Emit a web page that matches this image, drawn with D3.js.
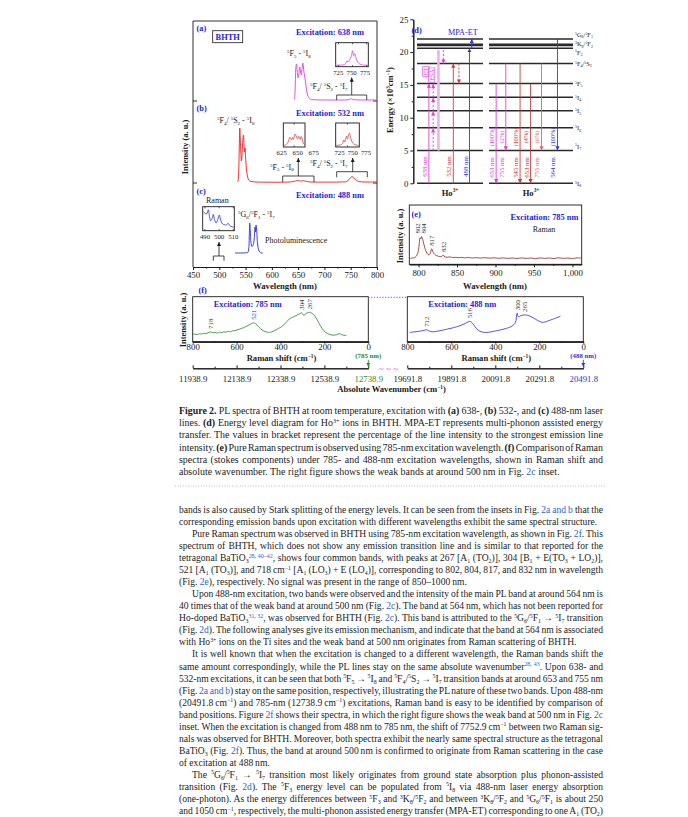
<!DOCTYPE html>
<html>
<head>
<meta charset="utf-8">
<script src="https://cdn.jsdelivr.net/npm/d3@7/dist/d3.min.js"></script>
<style>
  html, body { margin: 0; background: #fff; }
  svg { display: block; }
</style>
</head>
<body>
<svg id="page" width="688" height="817"></svg>
<script>
// ---------- data ----------
const wlTicks = [450, 500, 550, 600, 650, 700, 750, 800];
const ramanWlTicks = [800, 850, 900, 950, 1000];
const shiftTicks = [800, 600, 400, 200, 0];
const absTicks785 = [11938.9, 12138.9, 12338.9, 12538.9, 12738.9];
const absTicks488 = [19691.8, 19891.8, 20091.8, 20291.8, 20491.8];
const energyTicks = [0, 5, 10, 15, 20, 25];

// [wavelength nm, intensity a.u.]
const pl638 = [[643,1.5],[644,8],[645,26],[646,35],[647,37],[648,31],[649,26],[650,23],[651,25],[652,30],[653,34],[654,31],[655,28],[656,26],[657,30],[658,35],[659,38],[660,34],[661,29],[662,26],[663,23],[664,19],[665,15],[666,11],[667,8],[668,6],[670,3.5],[673,2],[678,1.3],[690,1.1],[720,1],[742,1.1],[747,1.5],[750,2.2],[753,1.9],[756,1.4],[762,1.1],[780,1],[800,1]];
const pl532 = [[535,1],[536,3],[537,12],[538,35],[539,55],[540,44],[541,30],[542,22],[543,26],[544,36],[545,44],[546,48],[547,38],[548,31],[549,35],[550,26],[551,18],[552,12],[554,6],[556,3],[560,1.6],[570,1],[600,0.8],[630,0.9],[640,1.4],[645,2],[650,2.4],[655,1.9],[660,2.3],[666,1.5],[675,1],[700,0.9],[730,1],[742,1.5],[747,3.5],[750,5.5],[753,6.5],[756,4.5],[759,3.6],[763,2],[770,1.2],[785,1],[800,1]];
const pl488 = [[530,14],[540,14],[550,14.2],[554,14.5],[556,18],[557,30],[558,44],[559,36],[560,26],[561,22],[562,20.5],[564,21.5],[566,26],[567,33],[568,40],[569,35],[570,42],[571,38],[572,29],[573,22],[575,17],[577,15],[580,14],[583,14]];

const inset638 = [[720,1.5],[726,1.5],[732,1.7],[736,2.2],[738,3.5],[740,6],[742,4.5],[744,6],[746,8],[748,11],[750,16],[752,11],[754,13],[756,9],[758,6],[761,3.5],[765,2],[770,1.6],[778,1.5]];
const inset532a = [[625,1.5],[630,2],[634,3.5],[637,6],[640,10],[642,8],[644,7],[646,9.5],[648,7.5],[650,10],[652,13],[654,11.5],[656,9.5],[658,8],[660,11],[662,9.5],[664,7.5],[666,10.5],[668,9],[670,5],[672,3],[675,2]];
const inset532b = [[725,1.5],[732,1.8],[737,2.5],[740,4],[742,7],[744,5],[746,8],[748,11],[750,8],[752,12],[754,14],[756,10],[758,7],[761,4],[765,2.5],[770,1.8],[775,1.5]];
const inset488 = [[488.8,19],[490,17.5],[491.2,16.8],[492.4,20.9],[493.2,14],[494,9.9],[495,12],[495.9,16.3],[496.8,11],[497.8,7.7],[499,11],[500.1,15.7],[501.2,10],[502.5,6.7],[503.7,6],[504.9,5.7],[505.7,6.5],[506.5,7.3],[507.4,5.2],[508.2,4.3],[509.4,3.8],[510.5,3.3]];

const raman785 = [[789,6],[792,6.3],[795,6.8],[797,8],[799,11],[800,15],[801,21],[802,26.5],[803,25.5],[804,27.8],[805,26],[806,23],[808,17],[810,12.5],[812,10],[814,9.6],[815,10.5],[816,12.5],[817,15.5],[818,14.5],[819,12],[821,10],[823,8.8],[826,8],[829,7.6],[831,8.4],[832,9.2],[833,8.2],[835,7.3],[838,7.1],[841,7.4],[844,6.8],[848,7],[852,6.6],[856,6.9],[860,6.4],[865,6.8],[870,6.3],[875,6.7],[880,6.2],[886,6.6],[892,6.1],[898,6.5],[904,6.0],[910,6.4],[916,5.9],[922,6.3],[928,5.8],[934,6.4],[940,5.9],[946,6.3],[952,5.7],[958,6.4],[964,5.9],[970,6.3],[976,5.8],[982,6.5],[988,5.9],[994,6.3],[1000,5.8],[1006,6.4],[1011,6.1]];
const ramanPeaks785 = [802, 804, 817, 832];

// [Raman shift cm-1, intensity a.u.]
const shift785 = [[800,7.2],[790,7.6],[780,7.1],[770,8.0],[760,7.7],[750,8.4],[740,8.1],[730,8.9],[718,9.8],[708,8.9],[698,9.2],[688,8.7],[678,9.5],[668,9.2],[658,9.9],[648,9.6],[638,10.3],[628,10.0],[618,10.9],[608,11.0],[598,11.8],[588,12.4],[578,13.3],[568,14.0],[558,15.1],[548,16.1],[538,17.4],[528,18.4],[521,18.9],[514,18.0],[506,16.4],[498,14.5],[490,12.8],[480,11.2],[470,10.2],[460,9.5],[450,9.3],[440,9.9],[430,10.8],[420,11.9],[410,13.2],[400,14.3],[390,15.9],[380,17.9],[370,20.4],[360,22.6],[350,24.0],[340,25.0],[330,26.1],[320,27.2],[312,28.0],[304,29.0],[298,27.2],[292,26.5],[285,28.0],[276,29.0],[267,29.4],[258,28.6],[250,27.2],[242,25.2],[234,22.4],[226,19.0],[218,15.8],[210,13.1],[202,10.9],[194,9.2],[186,8.1],[176,7.2],[166,6.7],[156,6.5],[146,6.9],[138,7.6],[130,8.0],[122,7.1],[114,6.5],[106,6.3],[100,6.4]];
const shift488 = [[790,9.2],[780,9.5],[770,9.8],[760,10.0],[750,10.3],[740,10.7],[730,11.0],[720,11.6],[712,11.9],[704,11.0],[696,10.3],[686,9.9],[676,10.0],[666,10.4],[656,10.8],[646,11.2],[636,11.7],[626,12.2],[616,12.7],[606,13.2],[596,13.7],[586,14.3],[576,14.9],[566,15.6],[556,16.4],[546,17.3],[536,18.3],[528,19.3],[520,20.1],[516,20.4],[510,19.8],[504,18.5],[498,16.9],[492,15.0],[486,13.3],[478,11.6],[470,10.5],[460,9.7],[450,9.3],[440,9.2],[430,9.4],[420,9.8],[410,10.3],[400,10.7],[390,11.2],[380,11.6],[370,12.1],[360,12.7],[350,13.3],[340,14.0],[330,14.9],[320,16.2],[312,18.0],[306,21.0],[302,27.8],[300,28.5],[298,26.0],[294,25.0],[290,25.3],[284,26.1],[276,26.5],[268,26.8],[262,26.8],[254,26.4],[246,25.9],[238,25.0],[228,23.9],[218,22.6],[208,21.3],[198,20.2],[190,19.6],[182,19.3],[176,19.5],[168,20.1],[160,20.8],[150,21.6],[140,22.4],[130,23.2],[120,24.1],[110,24.9],[104,25.4]];
const peaks785 = [718, 521, 304, 267];
const peaks488 = [712, 516, 300, 265];

// energy levels (x10^3 cm-1)
const levels = [
  {n:'^{5}I_{8}', e:0}, {n:'^{5}I_{7}', e:5.0}, {n:'^{5}I_{6}', e:8.45}, {n:'^{5}I_{5}', e:11.05},
  {n:'^{5}I_{4}', e:13.1}, {n:'^{5}F_{5}', e:15.2}, {n:'^{5}F_{4}/^{5}S_{2}', e:18.25},
  {n:'^{5}F_{3}', e:20.6}, {n:'^{3}K_{8}/^{5}F_{2}', e:21.1}, {n:'^{5}G_{6}/^{5}F_{1}', e:22.0}
];
const pumps = [
  {lab:'638 nm', from:0, to:15.2, col:3.6, c:'#dd3fdd'},
  {lab:'532 nm', from:0, to:18.25, col:11, c:'#d63a3a'},
  {lab:'488 nm', from:0, to:20.6, col:15.9, c:'#3434dc'}
];
const etSteps = [5.0, 8.45, 11.05, 13.1, 15.2];
const relax = [
  {from:20.3, to:18.25, col:8, c:'#dd3fdd'},
  {from:18.25, to:15.2, col:12.7, c:'#d63a3a'}
];
const emissions = [
  {lab:'653 nm', pct:'(100%)', from:15.2, to:0, col:1.7, c:'#dd3fdd'},
  {lab:'755 nm', pct:'(2%)', from:18.25, to:5.0, col:4.0, c:'#dd3fdd'},
  {lab:'545 nm', pct:'(100%)', from:18.25, to:0, col:7.4, c:'#d63a3a'},
  {lab:'653 nm', pct:'(4%)', from:15.2, to:0, col:9.9, c:'#c23838'},
  {lab:'755 nm', pct:'(6%)', from:18.25, to:5.0, col:12.5, c:'#dc6868'},
  {lab:'564 nm', pct:'(100%)', from:22.0, to:5.0, col:16.3, c:'#3434dc'}
];

const caption = [
  '**Figure 2.** PL spectra of BHTH at room temperature, excitation with **(a)** 638-, **(b)** 532-, and **(c)** 488-nm laser',
  'lines. **(d)** Energy level diagram for Ho^{3+} ions in BHTH. MPA-ET represents multi-phonon assisted energy',
  'transfer. The values in bracket represent the percentage of the line intensity to the strongest emission line',
  'intensity. **(e)** Pure Raman spectrum is observed using 785-nm excitation wavelength. **(f)** Comparison of Raman',
  'spectra (stokes components) under 785- and 488-nm excitation wavelengths, shown in Raman shift and',
  'absolute wavenumber. The right figure shows the weak bands at around 500\u2009nm in Fig. <<2c>> inset.'
];
const body = [
  'bands is also caused by Stark splitting of the energy levels. It can be seen from the insets in Fig. <<2a and b>> that the',
  'corresponding emission bands upon excitation with different wavelengths exhibit the same spectral structure.',
  '\tPure Raman spectrum was observed in BHTH using 785-nm excitation wavelength, as shown in Fig. <<2f>>. This',
  'spectrum of BHTH, which does not show any emission transition line and is similar to that reported for the',
  'tetragonal BaTiO_{3}^{<<28>>, <<40\u201342>>}, shows four common bands, with peaks at 267 [A_{1} (TO_{2})], 304 [B_{1} + E(TO_{3} + LO_{2})],',
  '521 [A_{1} (TO_{3})], and 718\u2009cm^{\u22121} [A_{1} (LO_{3}) + E (LO_{4})], corresponding to 802, 804, 817, and 832\u2009nm in wavelength',
  '(Fig. <<2e>>), respectively. No signal was present in the range of 850\u20131000\u2009nm.',
  '\tUpon 488-nm excitation, two bands were observed and the intensity of the main PL band at around 564\u2009nm is',
  '40 times that of the weak band at around 500\u2009nm (Fig. <<2c>>). The band at 564\u2009nm, which has not been reported for',
  'Ho-doped BaTiO_{3}^{<<31>>, <<32>>}, was observed for BHTH (Fig. <<2c>>). This band is attributed to the ^{5}G_{6}/^{5}F_{1} \u2192 ^{5}I_{7} transition',
  '(Fig. <<2d>>). The following analyses give its emission mechanism, and indicate that the band at 564\u2009nm is associated',
  'with Ho^{3+} ions on the Ti sites and the weak band at 500\u2009nm originates from Raman scattering of BHTH.',
  '\tIt is well known that when the excitation is changed to a different wavelength, the Raman bands shift the',
  'same amount correspondingly, while the PL lines stay on the same absolute wavenumber^{<<28>>, <<43>>}. Upon 638- and',
  '532-nm excitations, it can be seen that both ^{5}F_{5} \u2192 ^{5}I_{8} and ^{5}F_{4}/^{5}S_{2} \u2192 ^{5}I_{7} transition bands at around 653 and 755\u2009nm',
  '(Fig. <<2a and b>>) stay on the same position, respectively, illustrating the PL nature of these two bands. Upon 488-nm',
  '(20491.8\u2009cm^{\u22121}) and 785-nm (12738.9\u2009cm^{\u22121}) excitations, Raman band is easy to be identified by comparison of',
  'band positions. Figure <<2f>> shows their spectra, in which the right figure shows the weak band at 500\u2009nm in Fig. <<2c>>',
  'inset. When the excitation is changed from 488\u2009nm to 785\u2009nm, the shift of 7752.9\u2009cm^{\u22121} between two Raman sig-',
  'nals was observed for BHTH. Moreover, both spectra exhibit the nearly same spectral structure as the tetragonal',
  'BaTiO_{3} (Fig. <<2f>>). Thus, the band at around 500\u2009nm is confirmed to originate from Raman scattering in the case',
  'of excitation at 488\u2009nm.',
  '\tThe ^{5}G_{6}/^{5}F_{1} \u2192 ^{5}I_{7} transition most likely originates from ground state absorption plus phonon-assisted',
  'transition (Fig. <<2d>>). The ^{5}F_{3} energy level can be populated from ^{5}I_{8} via 488-nm laser energy absorption',
  '(one-photon). As the energy differences between ^{5}F_{3} and ^{3}K_{8}/^{5}F_{2} and between ^{3}K_{8}/^{5}F_{2} and ^{5}G_{6}/^{5}F_{1} is about 250',
  'and 1050\u2009cm^{\u22121}, respectively, the multi-phonon assisted energy transfer (MPA-ET) corresponding to one A_{1} (TO_{2})'
];

// ---------- helpers ----------
const SERIF = "'Liberation Serif', 'DejaVu Serif', serif";
const TITLE_BLUE = '#2424e0';
const LINK = '#2f5fd0';
const INK = '#1a1a1a';
const svg = d3.select('#page');
const defs = svg.append('defs');

// tiny markup: **bold**, ^{sup}, _{sub}, <<link>>
function rich(t, str, fs) {
  let bold = false, blue = false, buf = '';
  const mode = [], segs = [];
  const flush = () => { if (buf) { segs.push({t: buf, bold, blue, m: mode[mode.length - 1] || ''}); buf = ''; } };
  for (let i = 0; i < str.length; i++) {
    const two = str.substr(i, 2);
    if (two === '**') { flush(); bold = !bold; i++; continue; }
    if (two === '^{') { flush(); mode.push('sup'); i++; continue; }
    if (two === '_{') { flush(); mode.push('sub'); i++; continue; }
    if (str[i] === '}' && mode.length) { flush(); mode.pop(); continue; }
    if (two === '<<') { flush(); blue = true; i++; continue; }
    if (two === '>>') { flush(); blue = false; i++; continue; }
    buf += str[i];
  }
  flush();
  let cur = 0;
  segs.forEach(s => {
    const off = s.m === 'sup' ? -0.36 * fs : s.m === 'sub' ? 0.22 * fs : 0;
    const ts = t.append('tspan').text(s.t)
      .attr('dy', (off - cur).toFixed(2))
      .style('font-size', (s.m ? fs * 0.62 : fs) + 'px');
    if (s.bold) ts.style('font-weight', 'bold');
    if (s.blue) ts.attr('fill', LINK);
    cur = off;
  });
  return t;
}

function label(x, y, str, fs, opt = {}) {
  const t = svg.append('text').attr('x', x).attr('y', y)
    .attr('font-family', SERIF).attr('font-size', fs)
    .attr('text-anchor', opt.anchor || 'start')
    .attr('fill', opt.fill || INK);
  if (opt.bold) t.attr('font-weight', 'bold');
  if (opt.rot) t.attr('transform', `rotate(${opt.rot},${x},${y})`);
  return rich(t, str, fs);
}
// vertical label centred on (cx, cy), reading bottom to top
function vlabel(cx, cy, str, fs, opt = {}) {
  return label(cx + fs * 0.35, cy, str, fs, Object.assign({anchor: 'middle', rot: -90}, opt));
}

function arrowHead(color) {
  const id = 'ah' + color.replace('#', '');
  if (defs.select('#' + id).empty()) {
    defs.append('marker').attr('id', id).attr('viewBox', '0 0 10 10')
      .attr('refX', 10).attr('refY', 5).attr('markerUnits', 'userSpaceOnUse')
      .attr('markerWidth', 4.2).attr('markerHeight', 4.2).attr('orient', 'auto')
      .append('path').attr('d', 'M0,0L10,5L0,10z').attr('fill', color);
  }
  return `url(#${id})`;
}
function arrow(x1, y1, x2, y2, color, w, dash) {
  return svg.append('line').attr('x1', x1).attr('y1', y1).attr('x2', x2).attr('y2', y2)
    .attr('stroke', color).attr('stroke-width', w || 0.9)
    .attr('stroke-dasharray', dash || null)
    .attr('marker-end', arrowHead(color));
}

function spectrum(data, xs, ys, color, w) {
  svg.append('path').datum(data)
    .attr('fill', 'none').attr('stroke', color).attr('stroke-width', w || 0.9)
    .attr('stroke-linejoin', 'round')
    .attr('d', d3.line().x(d => xs(d[0])).y(d => ys(d[1])).curve(d3.curveCatmullRom.alpha(0.5)));
}

function styleAxis(g, fs) {
  g.attr('font-family', SERIF).attr('font-size', fs || 8.8);
  g.selectAll('line').attr('stroke', INK);
  g.selectAll('text').attr('fill', INK);
  g.select('.domain').attr('stroke', INK);
  return g;
}

function box(x0, x1, y0, y1) {
  svg.append('rect').attr('x', x0).attr('y', y0).attr('width', x1 - x0).attr('height', y1 - y0)
    .attr('fill', 'none').attr('stroke', INK).attr('stroke-width', 0.9);
}

function bracket(xa, xb, yTop, yEnd, stemX, stemTop) {
  svg.append('path').attr('d', `M${xa},${yEnd}V${yTop}H${xb}V${yEnd}`)
    .attr('fill', 'none').attr('stroke', INK).attr('stroke-width', 0.8);
  arrow(stemX, yTop, stemX, stemTop, INK, 0.8);
}

function inset(data, b, domain, ticks, labRange, color) {
  const xs = d3.scaleLinear().domain(domain).range([b[0], b[1]]);
  const ys = d3.scaleLinear().domain([0, 24]).range([b[3], b[2]]);
  svg.append('rect').attr('x', b[0]).attr('y', b[2]).attr('width', b[1] - b[0]).attr('height', b[3] - b[2])
    .attr('fill', '#fff').attr('stroke', INK).attr('stroke-width', 0.9);
  spectrum(data, xs, ys, color, 0.8);
  const ls = d3.scaleLinear().domain([ticks[0], ticks[ticks.length - 1]]).range(labRange);
  ticks.forEach(t => {
    const x = xs(t);
    if (x > b[0] + 0.5 && x < b[1] - 0.5) {
      svg.append('line').attr('x1', x).attr('x2', x).attr('y1', b[3]).attr('y2', b[3] - 1.6).attr('stroke', INK).attr('stroke-width', 0.7);
      svg.append('line').attr('x1', x).attr('x2', x).attr('y1', b[2]).attr('y2', b[2] + 1.6).attr('stroke', INK).attr('stroke-width', 0.7);
    }
    label(ls(t), b[3] + 8.3, String(t), 6.8, {anchor: 'middle'});
  });
}

function peakLabels(values, data, xs, ys) {
  const pos = values.map(v => {
    const near = data.reduce((a, b) => Math.abs(b[0] - v) < Math.abs(a[0] - v) ? b : a);
    return {v, x: xs(v), y: ys(near[1])};
  });
  for (let i = 1; i < pos.length; i++) {
    if (Math.abs(pos[i].x - pos[i - 1].x) < 6) {
      const m = (pos[i].x + pos[i - 1].x) / 2, top = Math.min(pos[i].y, pos[i - 1].y);
      pos[i - 1].x = m - 3.2; pos[i].x = m + 3.2; pos[i].y = pos[i - 1].y = top;
    }
  }
  pos.forEach(p => label(p.x + 2.4, p.y - 3, String(p.v), 6.8, {rot: -90, fill: '#3a3a3a'}));
}

// ---------- (a)(b)(c) PL spectra ----------
const LX0 = 193, LX1 = 377;
const xWl = d3.scaleLinear().domain([450, 800]).range([LX0, LX1]);
const ya = d3.scaleLinear().domain([0, 80]).range([101, 21]);
const yb = d3.scaleLinear().domain([0, 82]).range([183, 101]);
const yc = d3.scaleLinear().domain([0, 84]).range([267, 183]);

svg.append('path').attr('d', `M${LX0},267V21H${LX1}V267`).attr('fill', 'none').attr('stroke', INK).attr('stroke-width', 0.9);
[101, 183].forEach(y => {
  svg.append('line').attr('x1', LX0).attr('x2', LX0 + 4).attr('y1', y).attr('y2', y).attr('stroke', INK).attr('stroke-width', 0.9);
  svg.append('line').attr('x1', LX1 - 4).attr('x2', LX1).attr('y1', y).attr('y2', y).attr('stroke', INK).attr('stroke-width', 0.9);
});
styleAxis(svg.append('g').attr('transform', 'translate(0,267)')
  .call(d3.axisBottom(xWl).tickValues(wlTicks).tickSize(3).tickSizeOuter(0).tickPadding(2)));
styleAxis(svg.append('g').attr('transform', 'translate(0,267)')
  .call(d3.axisBottom(xWl).tickValues(d3.range(475, 800, 50)).tickSize(1.6).tickSizeOuter(0).tickFormat('')));
label(285, 289, 'Wavelength (nm)', 8.7, {anchor: 'middle', bold: true});
vlabel(185, 147, 'Intensity (a. u.)', 8.4, {bold: true});

spectrum(pl638, xWl, ya, '#dd3fdd', 0.9);
spectrum(pl532, xWl, yb, '#ee1c1c', 0.9);
spectrum(pl488, xWl, yc, '#2c2ce0', 0.9);

// (a)
label(196.5, 31, '(a)', 8.4, {bold: true, fill: TITLE_BLUE});
svg.append('rect').attr('x', 212.7).attr('y', 30.7).attr('width', 30).attr('height', 12).attr('fill', 'none').attr('stroke', INK).attr('stroke-width', 0.8);
label(227.7, 39.9, 'BHTH', 8.4, {anchor: 'middle', bold: true, fill: TITLE_BLUE});
label(330, 34.5, 'Excitation: 638 nm', 8.4, {anchor: 'middle', bold: true, fill: TITLE_BLUE});
label(287, 56, '^{5}F_{5} - ^{5}I_{8}', 8);
label(310, 89, '^{5}F_{4}/ ^{5}S_{2} - ^{5}I_{7}', 8);
inset(inset638, [335.7, 368.3, 42.7, 66.7], [720, 778], [725, 750, 775], [338.3, 365], '#dd3fdd');
bracket(336.7, 366.7, 95, 100, 351.7, 77.5);

// (b)
label(196.5, 111, '(b)', 8.4, {bold: true, fill: TITLE_BLUE});
label(330, 116, 'Excitation: 532 nm', 8.4, {anchor: 'middle', bold: true, fill: TITLE_BLUE});
label(217, 123, '^{5}F_{4}/ ^{5}S_{2} - ^{5}I_{8}', 8);
inset(inset532a, [283.3, 305, 123, 147], [625, 675], [625, 650, 675], [281.7, 313.7], '#d84848');
inset(inset532b, [335.7, 359.3, 123, 147], [725, 775], [725, 750, 775], [339.5, 366], '#d84848');
label(270, 169.5, '^{5}F_{5} - ^{5}I_{8}', 8);
label(310, 166, '^{5}F_{4}/ ^{5}S_{2} - ^{5}I_{7}', 8);
bracket(282.7, 314, 176, 182, 298.3, 158);
bracket(336.7, 367.3, 171.7, 177.3, 352.7, 158);

// (c)
label(196.5, 193.5, '(c)', 8.4, {bold: true, fill: TITLE_BLUE});
label(330, 197.5, 'Excitation: 488 nm', 8.4, {anchor: 'middle', bold: true, fill: TITLE_BLUE});
label(206, 203, 'Raman', 8);
inset(inset488, [202.7, 234.3, 206.7, 230.7], [488.4, 510.7], [490, 500, 510], [205, 233.3], '#2c2ce0');
bracket(213.3, 224, 256, 260.7, 219, 242);
label(238, 217, '^{5}G_{6}/^{5}F_{1} - ^{5}I_{7}', 8);
label(265, 243, 'Photoluminescence', 8);

// ---------- (d) energy levels ----------
const yE = d3.scaleLinear().domain([0, 25]).range([183.3, 19.3]);
const leftCol = d3.scaleLinear().domain([0, 20]).range([417, 483]);
const rightCol = d3.scaleLinear().domain([0, 20]).range([489, 573]);
styleAxis(svg.append('g').attr('transform', 'translate(413.3,0)')
  .call(d3.axisLeft(yE).tickValues(energyTicks).tickSize(3).tickSizeOuter(0).tickPadding(2)));
styleAxis(svg.append('g').attr('transform', 'translate(413.3,0)')
  .call(d3.axisLeft(yE).tickValues(d3.range(2.5, 25, 5)).tickSize(1.6).tickSizeOuter(0).tickFormat('')));
vlabel(390, 100, 'Energy (\u00d710^{3}cm^{\u22121})', 8.4, {bold: true});
label(411.5, 33, '(d)', 8.4, {bold: true, fill: TITLE_BLUE});
label(448, 34.5, 'MPA-ET', 8.2, {fill: TITLE_BLUE});

const labNudge = {0: 2.7, 1: -1.8, 7: 6.5, 8: 1.4, 9: -2};
levels.forEach((l, i) => {
  const y = yE(l.e), w = i === 8 ? 2.6 : 1.5;
  [[leftCol(0), leftCol(20)], [rightCol(0), rightCol(20)]].forEach(([a, b]) =>
    svg.append('line').attr('x1', a).attr('x2', b).attr('y1', y).attr('y2', y)
      .attr('stroke', '#2a2a2a').attr('stroke-width', w));
  label(575, y + (labNudge[i] !== undefined ? labNudge[i] : 2.5), l.n, 6.4);
});

pumps.forEach(p => {
  const x = leftCol(p.col);
  arrow(x, yE(p.from), x, yE(p.to), p.c, 0.9);
  vlabel(x - 4.2, 166.5, p.lab, 6.8, {fill: p.c});
});
for (let i = 1; i < etSteps.length; i++) {
  const x = leftCol(4.9);
  arrow(x, yE(etSteps[i - 1]), x, yE(etSteps[i]) + 0.5, '#dd3fdd', 0.9, '2.2,1.6');
}
arrow(leftCol(6.5), yE(5.0), leftCol(6.5), yE(20.3), '#f0b2ec', 2.6);
relax.forEach(r => arrow(leftCol(r.col), yE(r.from), leftCol(r.col), yE(r.to), r.c, 0.9, '2.2,1.6'));
arrow(leftCol(16.6), yE(20.6), leftCol(16.6), yE(22.0), '#3434dc', 0.9);

// ET / ESA boxed tags
[['ET', 425.9, 71.7], ['ESA', 431.6, 75]].forEach(([s, cx, cy]) => {
  const t = vlabel(cx, cy, s, 6.2, {fill: '#dd3fdd'});
  const L = t.node().getComputedTextLength();
  svg.append('rect').attr('x', cx - 3.2).attr('y', cy - L / 2 - 1.2).attr('width', 6.4).attr('height', L + 2.4)
    .attr('fill', 'none').attr('stroke', '#dd3fdd').attr('stroke-width', 0.6);
});

emissions.forEach(e => {
  const x = rightCol(e.col);
  arrow(x, yE(e.from), x, yE(e.to), e.c, 0.9);
  vlabel(x - 4.4, 167.5, e.lab, 6.8, {fill: e.c});
  vlabel(x - 4.4, 137, e.pct, 6.2, {fill: e.c});
});
label((leftCol(0) + leftCol(20)) / 2, 195.5, 'Ho^{3+}', 8.6, {anchor: 'middle', bold: true});
label((rightCol(0) + rightCol(20)) / 2, 195.5, 'Ho^{3+}', 8.6, {anchor: 'middle', bold: true});

// ---------- (e) pure Raman, 785 nm ----------
const xE = d3.scaleLinear().domain([788, 1012]).range([409.3, 581.7]);
const yEe = d3.scaleLinear().domain([0, 59.3]).range([264.3, 205]);
box(409.3, 581.7, 205, 264.3);
styleAxis(svg.append('g').attr('transform', 'translate(0,264.3)')
  .call(d3.axisBottom(xE).tickValues(ramanWlTicks).tickSize(3).tickSizeOuter(0).tickPadding(2)));
styleAxis(svg.append('g').attr('transform', 'translate(0,264.3)')
  .call(d3.axisBottom(xE).tickValues(d3.range(825, 1000, 50)).tickSize(1.6).tickSizeOuter(0).tickFormat('')));
spectrum(raman785, xE, yEe, '#8e1f1f', 0.8);
peakLabels(ramanPeaks785, raman785, xE, yEe);
label(411.5, 217, '(e)', 8.4, {bold: true, fill: TITLE_BLUE});
label(544.5, 220, 'Excitation: 785 nm', 8.4, {anchor: 'middle', bold: true, fill: TITLE_BLUE});
label(544, 232, 'Raman', 8, {anchor: 'middle'});
label(495, 289, 'Wavelength (nm)', 8.7, {anchor: 'middle', bold: true});
vlabel(400, 236, 'Intensity (a. u.)', 8.4, {bold: true});

// ---------- (f) Raman shift / absolute wavenumber ----------
const yF = d3.scaleLinear().domain([0, 45]).range([341.7, 296.7]);
const panelsF = [
  {x0: 192.7, x1: 368.3, data: shift785, peaks: peaks785, abs: absTicks785, c: '#2f8a2f', lab: 'Excitation: 785 nm', exc: '(785 nm)'},
  {x0: 407.3, x1: 583.3, data: shift488, peaks: peaks488, abs: absTicks488, c: '#3434d8', lab: 'Excitation: 488 nm', exc: '(488 nm)'}
];
panelsF.forEach(p => {
  const xs = d3.scaleLinear().domain([800, 0]).range([p.x0, p.x1]);
  const xa = d3.scaleLinear().domain([p.abs[0], p.abs[p.abs.length - 1]]).range([p.x0, p.x1]);
  box(p.x0, p.x1, 296.7, 341.7);
  styleAxis(svg.append('g').attr('transform', 'translate(0,341.7)')
    .call(d3.axisBottom(xs).tickValues(shiftTicks).tickSize(2).tickSizeOuter(0).tickPadding(0)));
  styleAxis(svg.append('g').attr('transform', 'translate(0,341.7)')
    .call(d3.axisBottom(xs).tickValues([700, 500, 300, 100]).tickSize(1.3).tickSizeOuter(0).tickFormat('')));
  const ga = styleAxis(svg.append('g').attr('transform', 'translate(0,368.3)')
    .call(d3.axisBottom(xa).tickValues(p.abs).tickSize(-3).tickSizeOuter(0).tickPadding(7.5).tickFormat(d3.format('.1f'))));
  styleAxis(svg.append('g').attr('transform', 'translate(0,368.3)')
    .call(d3.axisBottom(xa).tickValues(p.abs.slice(1).map(v => v - 100)).tickSize(-1.6).tickSizeOuter(0).tickFormat('')));
  ga.selectAll('.tick text').filter((d, i) => i === p.abs.length - 1).attr('fill', p.c);
  spectrum(p.data, xs, yF, p.c, 0.85);
  peakLabels(p.peaks, p.data, xs, yF);
  label(p.x0 + 55, 307, p.lab, 8.4, {anchor: 'middle', bold: true, fill: TITLE_BLUE});
  label((p.x0 + p.x1) / 2 + 1, 361, 'Raman shift (cm^{\u22121})', 8.6, {anchor: 'middle', bold: true});
  label(p.x1, 357.8, p.exc, 6.8, {anchor: 'middle', bold: true, fill: p.c});
  arrow(p.x1, 359.8, p.x1, 366.8, p.c, 0.9);
});
label(198.5, 293, '(f)', 8.4, {bold: true, fill: TITLE_BLUE});
vlabel(182.7, 320, 'Intensity (a. u.)', 8.4, {bold: true});
svg.append('line').attr('x1', 368.3).attr('x2', 407.3).attr('y1', 297.3).attr('y2', 297.3)
  .attr('stroke', '#c040c0').attr('stroke-width', 1).attr('stroke-dasharray', '1.3,1.5');
label(388.5, 371.5, '~ ~ ~', 9, {anchor: 'middle', fill: '#c040c0'});
label(391.5, 392, 'Absolute Wavenumber (cm^{\u22121})', 8.6, {anchor: 'middle', bold: true});

// ---------- caption and body text ----------
function textBlock(lines, x0, x1, yFirst, lead, indent, lastJust) {
  const g = svg.append('g').attr('font-family', SERIF).attr('fill', '#1c1c1c');
  const build = fs => {
    g.selectAll('*').remove();
    return lines.map((s, i) => {
      const ind = s.startsWith('\t');
      const str = ind ? s.slice(1) : s;
      const nextInd = i + 1 < lines.length ? lines[i + 1].startsWith('\t') : !lastJust;
      const x = x0 + (ind ? indent : 0);
      const t = g.append('text').attr('x', x).attr('y', yFirst + i * lead).attr('font-size', fs);
      rich(t, str, fs);
      return {t, x, just: !nextInd};
    });
  };
  let rows = build(10);
  const ratios = rows.filter(r => r.just).map(r => (x1 - r.x) / r.t.node().getComputedTextLength());
  const fs = 10 * d3.mean(ratios);
  rows = build(fs);
  rows.forEach(r => {
    if (!r.just) return;
    const w = r.t.node().getComputedTextLength();
    const n = (r.t.text().match(/ /g) || []).length;
    if (n) r.t.style('word-spacing', ((x1 - r.x - w) / n).toFixed(3) + 'px');
  });
}
textBlock(caption, 179, 603, 414, 12.2, 13, false);
svg.append('line').attr('x1', 175).attr('x2', 605).attr('y1', 486).attr('y2', 486)
  .attr('stroke', '#9a9a9a').attr('stroke-width', 0.8).attr('stroke-dasharray', '0.8,1.8');
textBlock(body, 179, 603, 513, 12.04, 13, true);
</script>
</body>
</html>
